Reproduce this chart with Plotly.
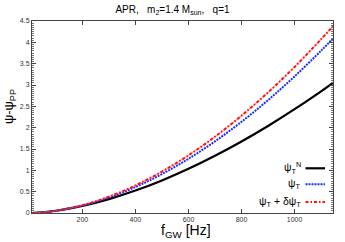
import plotly.graph_objects as go

f_hz = [10, 50, 100, 200, 300, 400, 500, 600, 700, 800, 900, 1000, 1100, 1145]
psi_newt = [0.0, 0.016, 0.052, 0.166, 0.326, 0.526, 0.764, 1.036, 1.341, 1.676, 2.040, 2.433, 2.852, 3.05]
psi_t = [0.0, 0.014, 0.050, 0.174, 0.362, 0.609, 0.913, 1.270, 1.679, 2.137, 2.645, 3.201, 3.804, 4.09]
psi_t_corr = [0.0, 0.015, 0.052, 0.183, 0.383, 0.646, 0.970, 1.351, 1.789, 2.281, 2.826, 3.423, 4.072, 4.38]

x_ticks = [200, 400, 600, 800, 1000]
y_ticks = [0, 0.5, 1, 1.5, 2, 2.5, 3, 3.5, 4, 4.5]
y_tick_labels = ["0", "0.5", "1", "1.5", "2", "2.5", "3", "3.5", "4", "4.5"]
legend_labels = ["ψ<sub>T</sub><sup>N</sup>", "ψ<sub>T</sub>", "ψ<sub>T</sub> + δψ<sub>T</sub>"]

FONT = "Liberation Sans, Arial, sans-serif"
W, H = 345, 242
ML, MR, MT, MB = 32, 12, 21, 29
PW, PH = W - ML - MR, H - MT - MB


def px(x):
    return (x - ML) / PW


def py(y):
    return (H - MB - y) / PH


fig = go.Figure()
fig.add_trace(go.Scatter(x=f_hz, y=psi_newt, mode="lines", line=dict(color="black", width=2.2, shape="spline"), showlegend=False))
fig.add_trace(go.Scatter(x=f_hz, y=psi_t, mode="lines", line=dict(color="#1f2fff", width=2, dash="2px,1px", shape="spline"), showlegend=False))
fig.add_trace(go.Scatter(x=f_hz, y=psi_t_corr, mode="lines", line=dict(color="rgba(255,120,120,0.6)", width=1.2, shape="spline"), showlegend=False))
fig.add_trace(go.Scatter(x=f_hz, y=psi_t_corr, mode="lines", line=dict(color="#ff1010", width=2, dash="3px,2px,1.5px,2px", shape="spline"), showlegend=False))

# manual legend (text right-aligned, sample on the right)
rows_y = [168.3, 184.3, 202]
styles = [dict(color="black", width=2.2), dict(color="#1f2fff", width=2, dash="2px,1px"), dict(color="#ff1010", width=2, dash="3px,2px,1.5px,2px")]
annotations = []
for lab, yy in zip(legend_labels, rows_y):
    annotations.append(dict(x=px(302.5), y=py(yy), xref="paper", yref="paper", text=lab, showarrow=False,
                            xanchor="right", yanchor="middle", font=dict(family=FONT, size=10.5, color="black")))
annotations.append(dict(x=px(186), y=py(231), xref="paper", yref="paper", text="f<sub>GW</sub> [Hz]", showarrow=False,
                        xanchor="center", yanchor="middle", font=dict(family=FONT, size=14, color="black")))
annotations.append(dict(x=px(9), y=py(107), xref="paper", yref="paper", text="ψ-ψ<sub>PP</sub>", showarrow=False,
                        textangle=-90, xanchor="center", yanchor="middle", font=dict(family=FONT, size=13, color="black")))

layout_shapes = []
for yy, st in zip(rows_y, styles):
    layout_shapes.append(dict(type="line", xref="paper", yref="paper", x0=px(305.5), x1=px(325),
                              y0=py(yy), y1=py(yy), line=st))

fig.update_layout(
    width=W, height=H,
    margin=dict(l=ML, r=MR, t=MT, b=MB, autoexpand=False),
    paper_bgcolor="white", plot_bgcolor="white",
    shapes=layout_shapes,
    annotations=annotations,
    title=dict(text="APR,   m<sub>2</sub>=1.4 M<sub>sun</sub>,   q=1", x=0.5, xanchor="center", y=1 - 9 / H, yanchor="middle",
               font=dict(family=FONT, size=10, color="black")),
    font=dict(family=FONT, color="black"),
)
fig.update_xaxes(range=[10, 1145], tickvals=x_ticks, ticks="inside", ticklen=4, tickcolor="#444",
                 showline=True, linecolor="#444", linewidth=1, mirror="ticks", showgrid=False, zeroline=False,
                 tickfont=dict(family=FONT, size=7, color="#333"))
fig.update_yaxes(range=[0, 4.5], tickvals=y_ticks, ticktext=y_tick_labels, ticks="inside", ticklen=4, tickcolor="#444",
                 showline=True, linecolor="#444", linewidth=1, mirror="ticks", showgrid=False, zeroline=False,
                 tickfont=dict(family=FONT, size=7, color="#333"),
                 minor=dict(ticks="inside", ticklen=2, dtick=0.05, tickcolor="#777"))

fig.write_html("out.html", config={"displayModeBar": False},
               post_script="document.body.style.margin='0px';document.body.style.padding='0px';")
